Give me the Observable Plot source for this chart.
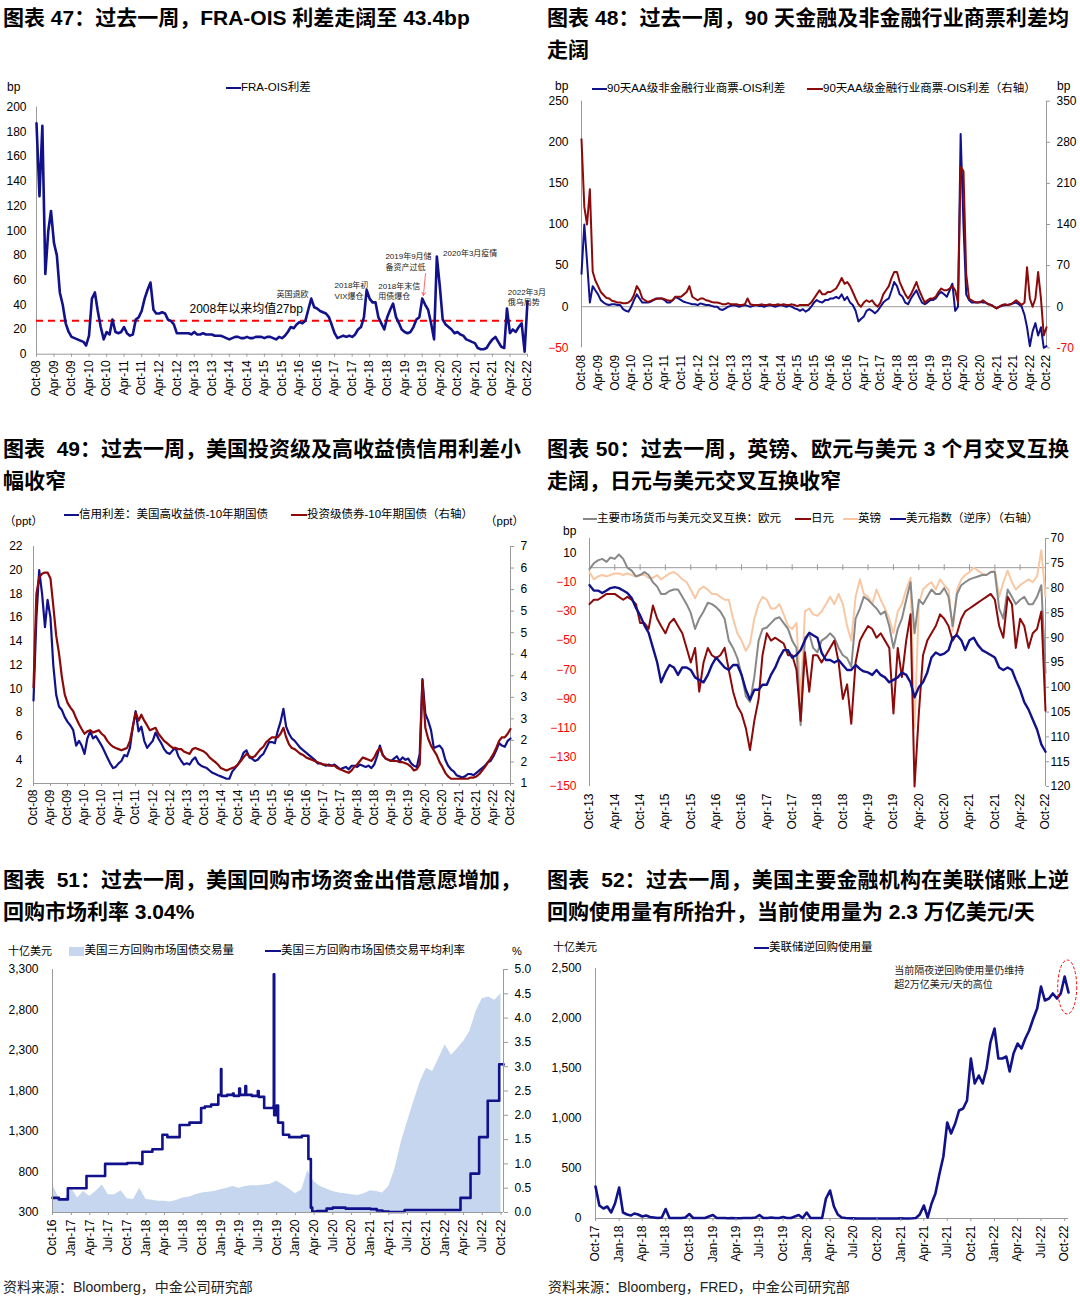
<!DOCTYPE html>
<html lang="zh-CN">
<head>
<meta charset="utf-8">
<script src="https://cdn.jsdelivr.net/npm/d3@7"></script>
<script src="https://cdn.jsdelivr.net/npm/@observablehq/plot@0.6"></script>
<style>
html,body{margin:0;padding:0;background:#fff;}
#page{position:relative;width:1080px;height:1298px;overflow:hidden;background:#fff;font-family:"Liberation Sans",Arial,"Noto Sans CJK SC",sans-serif;}
#page svg{overflow:visible;}
</style>
</head>
<body>
<div id="page"></div>
<script>
// ======================= DATA =======================
// Fig 47: FRA-OIS spread (bp), monthly Oct-2008 .. Oct-2022
const fraOis = [
  187, 128, 185,
  65, 100, 116, 90, 80, 50, 40, 25, 18, 14, 13, 12,
  11, 10, 7, 15, 45, 50, 35, 22, 12, 18, 16, 28,
  18, 17, 18, 22, 17, 15, 16, 28, 30, 35, 45, 52,
  58, 36, 33, 33, 34, 33, 28, 27, 24, 17, 17, 17,
  17, 17, 16, 18, 16, 16, 17, 16, 16, 16, 15, 15,
  15, 14, 13, 12, 13, 14, 14, 13, 13, 14, 13, 13,
  14, 14, 14, 13, 14, 14, 13, 12, 14, 13, 15, 18,
  22, 21, 24, 26, 25, 27, 36, 45, 38, 37, 35, 34,
  33, 30, 24, 17, 13, 14, 15, 14, 15, 14, 16, 20,
  22, 30, 52, 45, 42, 42, 30, 25, 20, 30, 36, 41,
  30, 25, 20, 18, 17, 18, 22, 28, 30, 45, 40, 36,
  25, 12, 79, 55, 28, 24, 22, 20, 17, 18, 16, 15,
  12, 11, 10, 9, 5, 4, 4, 5, 9, 12, 14, 10,
  6, 5, 37, 17, 20, 18, 22, 25, 2, 43
];
const fraOisMean = 27;
const p1YTicks = [0, 20, 40, 60, 80, 100, 120, 140, 160, 180, 200];
const p1NoteLabels = ["英国退欧", "2018年初\nVIX爆仓", "2018年末信\n用债爆仓", "2019年9月储\n备资产过低", "2020年3月疫情", "2022年3月\n俄乌局势"];
const p1NoteDates = ["2015-08-05", "2017-04-01", "2018-07-01", "2018-09-12", "2020-05-05", "2022-03-10"];
const p1NoteValues = [49, 52, 51.5, 75.5, 82.3, 46.7];
const p1MeanLabel = "2008年以来均值27bp";
const p1MeanLabelAt = ["2013-02-10", 36.2];
const p1Arrow = {from: ["2019-11-04", 65.3], to: ["2019-10-13", 47.5]};

// Fig 48: 90-day AA CP - OIS spreads (bp), monthly Oct-2008 .. Oct-2022
const cpNonFin = [
  40, 100, 55,
  5, 25, 20, 15, 8, 5, 3, 2, 3, 3, 2, 2,
  -3, -5, -6, 0, 8, 15, 10, 5, 5, 5, 6, 8,
  10, 10, 10, 8, 5, 5, 8, 12, 10, 8, 6, 5,
  4, 3, 3, 2, 4, 3, 2, 2, 1, 0, 0, -3,
  -4, -2, 0, 1, 2, 1, 0, 1, 2, 1, 0, 1,
  2, 1, 1, 0, 1, 2, 1, 0, 1, 2, 1, 0,
  1, 0, -2, -3, -5, -3, -6, -4, 0, 5, 8, 6,
  5, 8, 8, 10, 10, 12, 10, 15, 8, 12, 5, 2,
  -5, -18, -15, -12, -5, -3, -5, -8, -5, 0, 5, 8,
  10, 20, 30, 25, 15, 12, 5, 3, 10, 15, 20, 12,
  5, 3, 5, 8, 8, 10, 15, 18, 15, 12, 20, 28,
  -5, 0, 210, 100, 15, 8, 5, 5, 5, 6, 5, 5,
  3, 2, 0, -2, 0, 1, 2, 2, 3, 4, 5, 3,
  0, -10, -25, -48, -30, -20, -35, -25, -50, -48
];
const cpFin = [ // right axis values
  285, 170, 140,
  200, 60, 45, 35, 25, 20, 15, 14, 10, 9, 7, 7,
  6, 6, 7, 11, 20, 35, 28, 14, 11, 8, 10, 12,
  13, 14, 14, 13, 11, 10, 11, 17, 17, 17, 21, 25,
  35, 17, 14, 11, 14, 14, 11, 10, 8, 7, 7, 6,
  4, 4, 6, 4, 4, 4, 3, 3, 4, 14, 4, 3,
  3, 3, 4, 3, 3, 4, 3, 3, 4, 3, 4, 3,
  3, 4, 3, 1, 3, 3, 3, 3, 7, 14, 21, 28,
  21, 21, 25, 25, 28, 31, 39, 49, 39, 42, 35, 25,
  14, 4, 0, 7, 11, 8, 11, 4, 0, 7, 21, 28,
  35, 49, 59, 59, 42, 31, 21, 14, 21, 31, 42, 28,
  17, 7, 11, 14, 14, 17, 25, 31, 28, 28, 31, 35,
  28, 7, 238, 231, 56, 14, 11, 8, 7, 7, 11, 7,
  4, 3, 0, -3, 0, 3, 4, 3, 4, 7, 11, 7,
  3, 7, 67, 14, 0, 14, 59, 14, -49, -35
];
const p2LeftTicks = [-50, 0, 50, 100, 150, 200, 250];
const p2RightTicks = [-70, 0, 70, 140, 210, 280, 350];

// Fig 49: credit spreads (ppt), monthly Oct-2008 .. Oct-2022
const hySpread = [
  9, 16, 20,
  18, 15.2, 17.5, 16, 12, 9.5, 8.5, 8.2, 7.6, 7.2, 6.9, 6.5,
  5.2, 5.6, 5.2, 4.5, 5.8, 6.4, 5.8, 6, 5.6, 5.2, 4.7, 4.2,
  3.7, 3.3, 3.4, 3.7, 3.9, 4.4, 4.3, 5, 6.8, 8.1, 6.4, 6.8,
  5.6, 5, 5.3, 5.6, 6.3, 5.8, 5.4, 4.9, 4.6, 4.5, 4.8, 5,
  4.3, 3.9, 3.6, 3.7, 3.6, 4, 4.2, 3.7, 3.5, 3.4, 3.3, 3.1,
  2.9, 2.8, 2.7, 2.6, 2.5, 2.4, 2.4, 3, 3.3, 3.6, 4, 4.6,
  4.8, 4.2, 4.1, 3.9, 4, 4.3, 4.5, 5, 5.5, 5.5, 5.4, 6.4,
  7.2, 8.3, 6.8, 6.2, 5.8, 5.6, 5.3, 5, 4.8, 4.6, 4.4, 4.2,
  4, 3.7, 3.7, 3.6, 3.5, 3.6, 3.5, 3.6, 3.4, 3.2, 3.3, 3.4,
  3.2, 3.5, 3.5, 3.4, 3.6, 3.5, 3.4, 3.5, 3.3, 3.6, 4.3, 5.2,
  4.4, 4.1, 4, 3.9, 4.1, 4.3, 3.9, 4.2, 4, 4.1, 3.7, 3.5,
  3.4, 4.5, 10.8, 7.9, 7.3, 6.5, 5, 5.1, 5.2, 4.9, 4, 3.5,
  3.2, 3, 2.7, 2.6, 2.5, 2.6, 2.8, 2.8, 2.7, 2.9, 3.1, 3.3,
  3.5, 3.8, 3.9, 4.3, 4.8, 5.4, 5.2, 5.1, 5.6, 5.8
];
const igSpread = [ // right axis values
  3.43, 5.8, 6.22,
  6.31, 6.34, 6.34, 6.19, 5.5, 4.75, 4.3, 3.7, 3.25, 3.04, 2.92, 2.83,
  2.65, 2.5, 2.38, 2.26, 2.32, 2.35, 2.29, 2.32, 2.35, 2.26, 2.2, 2.08,
  1.99, 1.93, 1.9, 1.87, 1.84, 1.87, 1.9, 2.08, 2.44, 2.8, 2.59, 2.74,
  2.59, 2.47, 2.35, 2.38, 2.41, 2.26, 2.17, 2.08, 2.02, 1.96, 1.9, 1.9,
  1.87, 1.87, 1.81, 1.78, 1.75, 1.87, 1.9, 1.87, 1.84, 1.81, 1.75, 1.66,
  1.6, 1.54, 1.48, 1.39, 1.36, 1.33, 1.36, 1.39, 1.42, 1.48, 1.57, 1.66,
  1.75, 1.69, 1.66, 1.69, 1.78, 1.87, 1.93, 2.05, 2.11, 2.17, 2.17, 2.17,
  2.26, 2.41, 2.17, 1.99, 1.9, 1.87, 1.81, 1.75, 1.72, 1.66, 1.63, 1.6,
  1.57, 1.54, 1.51, 1.48, 1.48, 1.45, 1.45, 1.45, 1.39, 1.36, 1.33, 1.3,
  1.27, 1.33, 1.42, 1.48, 1.57, 1.66, 1.63, 1.6, 1.57, 1.66, 1.81, 1.9,
  1.72, 1.63, 1.6, 1.57, 1.57, 1.57, 1.54, 1.54, 1.51, 1.48, 1.42, 1.33,
  1.36, 1.48, 3.61, 2.41, 2.14, 1.96, 1.84, 1.72, 1.54, 1.42, 1.27, 1.18,
  1.12, 1.12, 1.12, 1.12, 1.12, 1.12, 1.12, 1.15, 1.15, 1.18, 1.24, 1.33,
  1.42, 1.54, 1.63, 1.75, 1.9, 2.08, 2.17, 2.17, 2.26, 2.38
];
const p3LeftTicks = [2, 4, 6, 8, 10, 12, 14, 16, 18, 20, 22];
const p3RightLabels = ["1", "2", "2", "3", "3", "4", "4", "5", "5", "6", "6", "7"];

// Fig 50: 3M cross-currency basis vs USD (bp) and DXY, monthly Oct-2013 .. Oct-2022
const basisEur = [
  -1, 3, 5,
  6, 4, 7, 6, 9, 6, 0, -2, -6, -5, -3, -5,
  -10, -13, -18, -18, -16, -15, -15, -20, -25, -31, -42, -35,
  -30, -24, -25, -27, -30, -35, -50, -55, -62, -73, -88, -92,
  -75, -50, -42, -41, -38, -35, -34, -38, -42, -50, -55, -108,
  -48, -45, -55, -58, -50, -48, -45, -48, -55, -60, -62, -68,
  -35, -28, -20, -22, -25, -28, -32, -30, -40, -55, -42, -35,
  -22, -10, -45, -22, -25, -20, -15, -18, -18, -14, -20, -40,
  -18, -12, -10, -8, -7, -6, -5, -5, -3, -3, -28, -35,
  -15, -20, -25, -22, -20, -25, -25, -20, -12, -72
];
const basisJpy = [
  -25, -22, -22,
  -20, -18, -18, -18, -20, -22, -20, -22, -25, -38, -38, -42,
  -26, -35, -40, -45, -38, -35, -40, -45, -55, -65, -55, -85,
  -65, -55, -60, -62, -60, -55, -70, -85, -95, -100, -110, -125,
  -105, -90, -60, -45, -50, -48, -50, -52, -60, -60, -70, -105,
  -58, -85, -60, -60, -65, -60, -55, -50, -65, -90, -80, -107,
  -65, -50, -45, -40, -42, -48, -45, -50, -55, -100, -55, -75,
  -50, -32, -150, -100, -60, -50, -45, -40, -32, -35, -40, -50,
  -45, -35, -30, -28, -26, -24, -22, -20, -18, -22, -40, -48,
  -20, -25, -55, -35, -40, -55, -45, -42, -30, -98
];
const basisGbp = [
  -3, -8, -6,
  -5, -6, -5, -4, -4, -5, -4, -5, -6, -5, -5, -7,
  -7, -5, -8, -6, -4, -3, -5, -8, -10, -15, -21, -15,
  -13, -15, -18, -18, -20, -22, -22, -35, -45, -50, -57, -52,
  -35, -25, -20, -22, -28, -28, -25, -32, -40, -42, -38, -90,
  -30, -28, -32, -33, -30, -25, -20, -25, -18, -25, -40, -50,
  -20, -8, -18, -20, -25, -15, -22, -28, -35, -45, -30, -25,
  -15, -7, -110, -25, -15, -12, -10, -15, -8, -12, -15, -43,
  -15, -8, -5, -3, 0, -2, -4, -5, -3, -2, -20, -10,
  -2, -10, -15, -12, -10, -8, -10, -6, 12, -20
];
const dxy = [
  79.4, 80.5, 80.5,
  81, 80.5, 80, 79.8, 80, 80.5, 81, 82, 84, 85.5, 87.5, 89,
  92, 95, 99, 97, 95.5, 96, 97.5, 96, 96, 96.5, 98, 98.5,
  99, 97.5, 95.5, 94, 95, 96, 96.5, 95.5, 95.5, 97.5, 100.5, 102.5,
  100.5, 100.5, 99.5, 99.5, 97.5, 96, 94, 92.5, 92.5, 94, 93.5, 92.5,
  90.5, 89, 89.5, 90, 93, 94.5, 94.5, 95, 94.5, 95.5, 96.5, 96.5,
  95.5, 96.3, 96.8, 97, 97.5, 96.5, 97.5, 98, 99, 98.5, 98, 97,
  97.5, 99, 102, 100, 99, 97, 94, 93, 93.5, 93.2, 92.5, 90,
  89.5, 90.5, 92.5, 90.5, 90, 91.5, 92.5, 93, 93.5, 94, 96, 96.5,
  96, 96.5, 98.5, 100.5, 103, 104.5, 106.5, 108.5, 111.5, 113
];
const p4LeftTicks = [-150, -130, -110, -90, -70, -50, -30, -10, 10];
const p4RightTicks = [70, 75, 80, 85, 90, 95, 100, 105, 110, 115, 120];

// Fig 51: tri-party repo volume (bn USD, monthly Oct-2016 .. Oct-2022) and average rate (%)
const repoVolume = [
  650, 480, 470,
  600, 480, 560, 500, 560, 640, 520, 520, 570, 470, 460, 600,
  460, 450, 440, 440, 430, 450, 480, 490, 520, 540, 550, 560,
  580, 600, 620, 600, 620, 630, 630, 640, 650, 690, 640, 590,
  530, 580, 820, 680, 620, 590, 560, 540, 530, 520, 510, 530,
  570, 560, 540, 620, 840, 1170, 1420, 1670, 1910, 2080, 2040, 2200,
  2370, 2240, 2320, 2410, 2530, 2780, 2940, 2960, 2920, 3000
];
const repoRateDates = ["2016-10-01","2016-11-01","2016-12-15","2017-03-16","2017-06-15","2017-10-01","2017-12-01","2017-12-14","2018-02-01","2018-03-22","2018-04-15","2018-06-14","2018-08-01","2018-09-27","2018-10-15","2018-11-15","2018-12-20","2019-01-02","2019-01-04","2019-02-01","2019-03-01","2019-03-05","2019-04-01","2019-04-05","2019-05-01","2019-05-05","2019-06-01","2019-07-01","2019-07-05","2019-08-01","2019-09-16","2019-09-17","2019-09-19","2019-10-01","2019-10-08","2019-11-01","2019-12-01","2020-01-01","2020-02-01","2020-03-04","2020-03-16","2020-03-23","2020-04-15","2020-06-01","2020-07-01","2020-09-01","2021-01-01","2021-02-01","2021-03-01","2021-04-01","2021-06-17","2022-03-17","2022-05-05","2022-06-16","2022-07-28","2022-09-22","2022-10-13"];
const repoRate = [0.30,0.27,0.50,0.75,1.00,1.02,1.00,1.25,1.30,1.60,1.55,1.80,1.85,2.15,2.18,2.22,2.42,2.95,2.40,2.42,2.45,2.40,2.55,2.42,2.60,2.42,2.40,2.50,2.38,2.15,2.20,4.90,2.00,2.20,1.85,1.60,1.55,1.55,1.58,1.10,0.10,0.02,0.03,0.08,0.10,0.08,0.07,0.04,0.02,0.01,0.05,0.30,0.80,1.55,2.30,3.05,3.04];
const p5LeftTicks = [300, 800, 1300, 1800, 2300, 2800, 3300];
const p5RightTicks = [0, 0.5, 1, 1.5, 2, 2.5, 3, 3.5, 4, 4.5, 5];

// Fig 52: Fed overnight reverse repo usage (bn USD), semi-monthly (1st, 16th) Oct-2017 .. Oct-2022
const rrpUsage = [
  320, 130, 100, 120, 60, 150,
  310, 60, 40, 30, 50, 40, 20, 30, 15, 10, 5, 10, 95, 5, 5, 5, 5, 10, 45, 5, 5, 5, 5, 20,
  35, 5, 5, 5, 3, 5, 3, 3, 5, 5, 5, 10, 35, 5, 5, 10, 5, 5, 15, 5, 5, 20, 35, 5,
  60, 5, 5, 5, 5, 200, 280, 120, 40, 10, 5, 2, 1, 0, 0, 0, 0, 0, 0, 0, 0, 0, 0, 0,
  2, 0, 0, 2, 5, 40, 130, 10, 150, 250, 450, 620, 960, 850, 950, 1080, 1100, 1180, 1600, 1350, 1430, 1350, 1500, 1760,
  1900, 1600, 1600, 1620, 1470, 1650, 1750, 1700, 1800, 1880, 2000, 2100, 2320, 2180, 2200, 2250, 2200, 2250, 2420, 2260
];
const p6Ticks = [0, 500, 1000, 1500, 2000, 2500];
const p6Note = "当前隔夜逆回购使用量仍维持\n超2万亿美元/天的高位";
const p6NoteAt = ["2020-12-07", 2420];
const p6Circle = ["2022-10-13", 2310];

// ======================= HELPERS =======================
const NAVY = "#11118c", DRED = "#8c0a0a", GREY = "#888888", PEACH = "#f8c8a4", AREA = "#c6d6ee", AX = "#9a9a9a";
const FONT = '"Liberation Sans", Arial, "Noto Sans CJK SC", sans-serif';
const page = document.getElementById("page");
const D = (y, m, day = 1) => new Date(Date.UTC(y, m, day));
const fmt = d3.utcFormat("%b-%y");
const monthSeries = (y, m, vals) => vals.map((v, i) => ({date: D(y, m + i, 1), v}));
const halfMonthSeries = (y, m, vals) => vals.map((v, i) => ({date: D(y, m + Math.floor(i / 2), i % 2 ? 16 : 1), v}));
const baseStyle = {fontFamily: FONT, fontSize: "12px", color: "#000", background: "transparent", overflow: "visible"};

function frame(f) {
  return {width: f.sw, height: f.sh, marginLeft: f.x1 - f.sx, marginRight: f.sx + f.sw - f.x2,
          marginTop: f.y1 - f.sy, marginBottom: f.sy + f.sh - f.y2};
}
function put(el, f) {
  const w = document.createElement("div");
  w.style.cssText = `position:absolute;left:${f.sx}px;top:${f.sy}px;`;
  w.appendChild(el); page.appendChild(w);
}
function label(text, x, yc, size, o = {}) {
  const d = document.createElement("div");
  d.textContent = text;
  d.style.cssText = `position:absolute;left:${x}px;top:${yc - size * 0.6}px;font-size:${size}px;line-height:${size * 1.2}px;white-space:pre;color:${o.color || "#000"};font-weight:${o.bold ? "bold" : "normal"};` +
    (o.width ? `width:${o.width}px;text-align:justify;text-align-last:justify;` : "");
  page.appendChild(d);
}
function swLine(x1, x2, yc, color, h = 2.6) {
  const d = document.createElement("div");
  d.style.cssText = `position:absolute;left:${x1}px;top:${yc - h / 2}px;width:${x2 - x1}px;height:${h}px;background:${color};`;
  page.appendChild(d);
}
function swRect(x1, x2, yc, h, color) { swLine(x1, x2, yc, color, h); }

// ======================= TITLES / TEXT =======================
label("图表 47：过去一周，FRA-OIS 利差走阔至 43.4bp", 3, 18, 21, {bold: true});
label("图表 48：过去一周，90 天金融及非金融行业商票利差均", 547, 18, 21, {bold: true, width: 522});
label("走阔", 547, 50, 21, {bold: true});
label("图表  49：过去一周，美国投资级及高收益债信用利差小", 3, 449, 21, {bold: true, width: 518});
label("幅收窄", 3, 481, 21, {bold: true});
label("图表 50：过去一周，英镑、欧元与美元 3 个月交叉互换", 547, 449, 21, {bold: true, width: 522});
label("走阔，日元与美元交叉互换收窄", 547, 481, 21, {bold: true});
label("图表  51：过去一周，美国回购市场资金出借意愿增加，", 3, 880, 21, {bold: true, width: 518});
label("回购市场利率 3.04%", 3, 912, 21, {bold: true});
label("图表  52：过去一周，美国主要金融机构在美联储账上逆", 547, 880, 21, {bold: true, width: 522});
label("回购使用量有所抬升，当前使用量为 2.3 万亿美元/天", 547, 912, 21, {bold: true});
label("资料来源：Bloomberg，中金公司研究部", 3, 1287, 14, {color: "#222"});
label("资料来源：Bloomberg，FRED，中金公司研究部", 548, 1287, 14, {color: "#222"});

// legends & unit labels
swLine(226, 241, 88, NAVY); label("FRA-OIS利差", 241, 88, 11.5); label("bp", 7, 87, 12);
swLine(592, 607, 89, NAVY); label("90天AA级非金融行业商票-OIS利差", 607, 89, 11.5);
swLine(807, 823, 89, DRED); label("90天AA级金融行业商票-OIS利差（右轴）", 823, 89, 11.5);
label("bp", 555, 86, 12); label("bp", 1057, 86, 12);
swLine(64, 79, 515, NAVY); label("信用利差：美国高收益债-10年期国债", 79, 515, 11.5);
swLine(291, 307, 515, DRED); label("投资级债券-10年期国债（右轴）", 307, 515, 11.5);
label("（ppt）", 4, 522, 11.5); label("（ppt）", 485, 522, 11.5);
swLine(583, 597, 519, GREY); label("主要市场货币与美元交叉互换：欧元", 597, 519, 11.5);
swLine(795, 811, 519, DRED); label("日元", 811, 519, 11.5);
swLine(843, 858, 519, PEACH); label("英镑", 858, 519, 11.5);
swLine(890, 906, 519, NAVY); label("美元指数（逆序）（右轴）", 906, 519, 11.5);
label("bp", 563, 531, 12);
swRect(69, 84, 951, 9, AREA); label("美国三方回购市场国债交易量", 84.5, 951, 11.5);
swLine(265, 281, 951, NAVY); label("美国三方回购市场国债交易平均利率", 281, 951, 11.5);
label("十亿美元", 8, 952, 11); label("%", 512, 952, 11);
swLine(754, 769, 948, NAVY); label("美联储逆回购使用量", 769, 948, 11.5); label("十亿美元", 553, 948, 11);

// ======================= PANEL 1 =======================
{
  const f = {sx: 0, sy: 60, sw: 540, sh: 350, x1: 36, x2: 527, y1: 106.7, y2: 353.7};
  const x0 = D(2008, 9), x1 = D(2022, 9);
  const notes = p1NoteLabels.map((t, i) => ({t, date: new Date(p1NoteDates[i]), v: p1NoteValues[i]}));
  const p = Plot.plot({
    ...frame(f), style: baseStyle,
    x: {type: "utc", domain: [x0, x1]}, y: {domain: [0, 200]},
    marks: [
      Plot.ruleX([x0], {stroke: AX}),
      Plot.ruleY([0], {stroke: AX}),
      Plot.ruleY([fraOisMean], {stroke: "#ff0000", strokeWidth: 2, strokeDasharray: "7,5"}),
      Plot.line(monthSeries(2008, 9, fraOis), {x: "date", y: "v", stroke: NAVY, strokeWidth: 2.6}),
      Plot.axisY({ticks: p1YTicks, tickSize: 0, tickPadding: 10, label: null}),
      Plot.axisX({ticks: d3.utcMonth.range(x0, D(2022, 10), 6), tickFormat: fmt, tickRotate: -90, tickSize: 3, tickPadding: 3, stroke: AX, label: null}),
      Plot.text(notes, {x: "date", y: "v", text: "t", textAnchor: "start", lineAnchor: "middle", fontSize: 8, lineHeight: 1.35, fill: "#222"}),
      Plot.text([{t: p1MeanLabel, date: new Date(p1MeanLabelAt[0]), v: p1MeanLabelAt[1]}], {x: "date", y: "v", text: "t", textAnchor: "start", fontSize: 12}),
      Plot.arrow([{a: new Date(p1Arrow.from[0]), b: p1Arrow.from[1], c: new Date(p1Arrow.to[0]), e: p1Arrow.to[1]}],
        {x1: "a", y1: "b", x2: "c", y2: "e", stroke: "#ff5a5a", strokeWidth: 0.9, headLength: 6})
    ]
  });
  put(p, f);
}

// ======================= PANEL 2 =======================
{
  const f = {sx: 540, sy: 60, sw: 540, sh: 350, x1: 581, x2: 1046, y1: 100.7, y2: 347.3};
  const x0 = D(2008, 9), x1 = D(2022, 9);
  const ratio = 350 / 250; // right axis / left axis
  const p = Plot.plot({
    ...frame(f), style: baseStyle,
    x: {type: "utc", domain: [x0, x1]}, y: {domain: [-50, 250]},
    marks: [
      Plot.ruleX([x0], {stroke: AX}),
      Plot.ruleX([x1], {stroke: AX}),
      Plot.ruleY([0], {stroke: AX}),
      Plot.line(monthSeries(2008, 9, cpNonFin), {x: "date", y: "v", stroke: NAVY, strokeWidth: 2}),
      Plot.line(monthSeries(2008, 9, cpFin), {x: "date", y: (d) => d.v / ratio, stroke: DRED, strokeWidth: 2}),
      Plot.axisY({ticks: p2LeftTicks.filter((t) => t >= 0), tickSize: 0, tickPadding: 13, label: null}),
      Plot.axisY({ticks: p2LeftTicks.filter((t) => t < 0), tickSize: 0, tickPadding: 13, label: null, color: "#ff0000"}),
      Plot.axisY({anchor: "right", ticks: p2RightTicks.filter((t) => t >= 0).map((t) => t / ratio), tickFormat: (d) => String(Math.round(d * ratio)), tickSize: 3, tickPadding: 7, stroke: AX, label: null}),
      Plot.axisY({anchor: "right", ticks: p2RightTicks.filter((t) => t < 0).map((t) => t / ratio), tickFormat: (d) => String(Math.round(d * ratio)), tickSize: 3, tickPadding: 7, stroke: AX, fill: "#ff0000", label: null}),
      Plot.axisX({ticks: d3.utcMonth.range(x0, D(2022, 10), 6), tickFormat: fmt, tickRotate: -90, tickSize: 0, tickPadding: 7, label: null})
    ]
  });
  put(p, f);
}

// ======================= PANEL 3 =======================
{
  const f = {sx: 0, sy: 490, sw: 540, sh: 350, x1: 33, x2: 510, y1: 546, y2: 783};
  const x0 = D(2008, 9), x1 = D(2022, 9);
  const toLeft = (r) => 2 + (r - 1) / 0.3;           // right axis (1..7) -> left axis (2..22)
  const rightPos = p3RightLabels.map((_, k) => toLeft(1 + k * 6 / 11));
  const p = Plot.plot({
    ...frame(f), style: baseStyle,
    x: {type: "utc", domain: [x0, x1]}, y: {domain: [2, 22]},
    marks: [
      Plot.ruleX([x0], {stroke: AX}),
      Plot.ruleX([x1], {stroke: AX}),
      Plot.ruleY([2], {stroke: AX}),
      Plot.line(monthSeries(2008, 9, hySpread), {x: "date", y: "v", stroke: NAVY, strokeWidth: 2.2}),
      Plot.line(monthSeries(2008, 9, igSpread), {x: "date", y: (d) => toLeft(d.v), stroke: DRED, strokeWidth: 2.2}),
      Plot.axisY({ticks: p3LeftTicks, tickSize: 0, tickPadding: 11, label: null}),
      Plot.axisY({anchor: "right", ticks: rightPos, tickFormat: (d) => p3RightLabels[Math.round(((1 + 0.3 * (d - 2)) - 1) * 11 / 6)], tickSize: 3, tickPadding: 7, stroke: AX, label: null}),
      Plot.axisX({ticks: d3.utcMonth.range(x0, D(2022, 10), 6), tickFormat: fmt, tickRotate: -90, tickSize: 3, tickPadding: 3, stroke: AX, label: null})
    ]
  });
  put(p, f);
}

// ======================= PANEL 4 =======================
{
  const f = {sx: 540, sy: 490, sw: 540, sh: 350, x1: 589, x2: 1045, y1: 538, y2: 786};
  const x0 = D(2013, 9), x1 = D(2022, 9);
  const dxyToLeft = (v) => 20 - 3.4 * (v - 70);       // reversed right axis 70..120 -> left 20..-150
  const xt = d3.utcMonth.range(x0, D(2022, 10), 6);
  const p = Plot.plot({
    ...frame(f), style: baseStyle,
    x: {type: "utc", domain: [x0, x1]}, y: {domain: [-150, 20]},
    marks: [
      Plot.ruleX([x0], {stroke: AX}),
      Plot.ruleX([x1], {stroke: AX}),
      Plot.ruleY([0], {stroke: AX}),
      Plot.ruleX(xt, {x: (d) => d, y1: -2, y2: 2, stroke: AX}),
      Plot.line(monthSeries(2013, 9, basisGbp), {x: "date", y: "v", stroke: PEACH, strokeWidth: 2}),
      Plot.line(monthSeries(2013, 9, basisEur), {x: "date", y: "v", stroke: GREY, strokeWidth: 2}),
      Plot.line(monthSeries(2013, 9, basisJpy), {x: "date", y: "v", stroke: DRED, strokeWidth: 2}),
      Plot.line(monthSeries(2013, 9, dxy), {x: "date", y: (d) => dxyToLeft(d.v), stroke: NAVY, strokeWidth: 2.4}),
      Plot.axisY({ticks: p4LeftTicks.filter((t) => t >= 0), tickSize: 0, tickPadding: 13, label: null}),
      Plot.axisY({ticks: p4LeftTicks.filter((t) => t < 0), tickSize: 0, tickPadding: 13, label: null, color: "#ff0000"}),
      Plot.axisY({anchor: "right", ticks: p4RightTicks.map(dxyToLeft), tickFormat: (d) => String(Math.round(70 + (20 - d) / 3.4)), tickSize: 3, tickPadding: 2, stroke: AX, label: null}),
      Plot.axisX({ticks: xt, tickFormat: fmt, tickRotate: -90, tickSize: 0, tickPadding: 7, label: null})
    ]
  });
  put(p, f);
}

// ======================= PANEL 5 =======================
{
  const f = {sx: 0, sy: 925, sw: 540, sh: 360, x1: 52, x2: 503, y1: 969, y2: 1212};
  const x0 = D(2016, 9), x1 = new Date("2022-10-13");
  const base = 300;
  const rateToLeft = (r) => base + 600 * r;           // right axis 0..5 -> left 300..3300
  const rate = repoRate.map((v, i) => ({date: new Date(repoRateDates[i]), v}));
  const p = Plot.plot({
    ...frame(f), style: baseStyle,
    x: {type: "utc", domain: [x0, x1]}, y: {domain: [300, 3300]},
    marks: [
      Plot.areaY(monthSeries(2016, 9, repoVolume), {x: "date", y1: () => base, y2: "v", fill: AREA}),
      Plot.line(rate, {x: "date", y: (d) => rateToLeft(d.v), curve: "step-after", stroke: NAVY, strokeWidth: 2.6}),
      Plot.ruleX([x0], {stroke: AX}),
      Plot.ruleX([x1], {stroke: AX}),
      Plot.ruleY([base], {stroke: AX}),
      Plot.axisY({ticks: p5LeftTicks, tickFormat: d3.format(","), tickSize: 0, tickPadding: 14, label: null}),
      Plot.axisY({anchor: "right", ticks: p5RightTicks.map(rateToLeft), tickFormat: (d) => ((d - base) / 600).toFixed(1), tickSize: 4, tickPadding: 7, stroke: AX, label: null}),
      Plot.axisX({ticks: d3.utcMonth.range(x0, D(2022, 10), 3), tickFormat: fmt, tickRotate: -90, tickSize: 3, tickPadding: 4, stroke: AX, label: null})
    ]
  });
  put(p, f);
}

// ======================= PANEL 6 =======================
{
  const f = {sx: 540, sy: 925, sw: 540, sh: 360, x1: 595, x2: 1068, y1: 968, y2: 1218};
  const x0 = D(2017, 9), x1 = D(2022, 9, 16);
  const p = Plot.plot({
    ...frame(f), style: baseStyle,
    x: {type: "utc", domain: [x0, x1]}, y: {domain: [0, 2500]},
    marks: [
      Plot.ruleX([x0], {stroke: AX}),
      Plot.ruleY([0], {stroke: AX}),
      Plot.line(halfMonthSeries(2017, 9, rrpUsage), {x: "date", y: "v", stroke: NAVY, strokeWidth: 2.6}),
      Plot.axisY({ticks: p6Ticks, tickFormat: d3.format(","), tickSize: 0, tickPadding: 14, label: null}),
      Plot.axisX({ticks: d3.utcMonth.range(x0, D(2022, 10), 3), tickFormat: fmt, tickRotate: -90, tickSize: 3, tickPadding: 4, stroke: AX, label: null}),
      Plot.text([{t: p6Note, date: new Date(p6NoteAt[0]), v: p6NoteAt[1]}], {x: "date", y: "v", text: "t", textAnchor: "start", lineAnchor: "middle", fontSize: 10, lineHeight: 1.4, fill: "#222"})
    ]
  });
  const sx = p.scale("x"), sy = p.scale("y");
  const ns = "http://www.w3.org/2000/svg";
  const e = document.createElementNS(ns, "ellipse");
  e.setAttribute("cx", sx.apply(new Date(p6Circle[0])));
  e.setAttribute("cy", sy.apply(p6Circle[1]));
  e.setAttribute("rx", 9.5); e.setAttribute("ry", 27);
  e.setAttribute("fill", "none"); e.setAttribute("stroke", "#ff0000");
  e.setAttribute("stroke-width", 1); e.setAttribute("stroke-dasharray", "3,2");
  p.appendChild(e);
  put(p, f);
}

// data length sanity check
{
  const checks = [["fraOis", fraOis, 169], ["cpNonFin", cpNonFin, 169], ["cpFin", cpFin, 169], ["hy", hySpread, 169], ["ig", igSpread, 169],
    ["eur", basisEur, 109], ["jpy", basisJpy, 109], ["gbp", basisGbp, 109], ["dxy", dxy, 109], ["vol", repoVolume, 73], ["rrp", rrpUsage, 122], ["rate", repoRate, repoRateDates.length]];
  const bad = checks.filter(([, a, n]) => a.length !== n).map(([k, a, n]) => `${k}:${a.length}/${n}`);
  if (bad.length) label("LEN " + bad.join(" "), 300, 1270, 12, {color: "#f0f"});
}
</script>
</body>
</html>
